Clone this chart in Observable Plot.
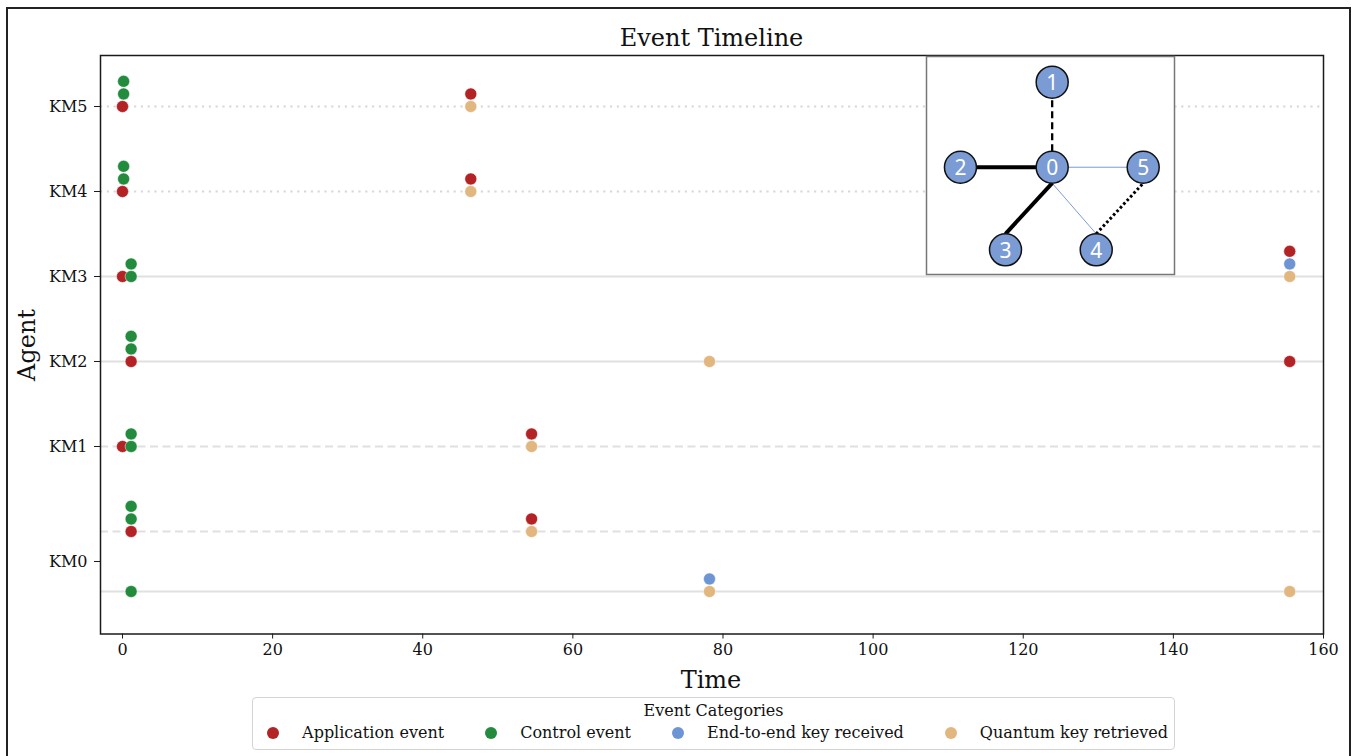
<!DOCTYPE html>
<html><head><meta charset="utf-8">
<script src="https://cdn.jsdelivr.net/npm/d3@7"></script>
<script src="https://cdn.jsdelivr.net/npm/@observablehq/plot@0.6"></script>
<style>
html,body{margin:0;padding:0;background:#fff;}
body{width:1360px;height:756px;position:relative;overflow:hidden;font-family:"DejaVu Serif",serif;color:#111;}
#frame{position:absolute;left:6px;top:7px;width:1345px;height:820px;border:2px solid #222;box-sizing:border-box;}
#chart{position:absolute;left:0;top:0;}
#inset{position:absolute;left:926px;top:56px;background:#fff;}
#title{position:absolute;left:100px;width:1223px;top:23px;text-align:center;font-size:24px;line-height:30px;white-space:nowrap;}
#ylabel{position:absolute;left:27px;top:345px;font-size:24px;line-height:30px;transform:translate(-50%,-50%) rotate(-90deg);white-space:nowrap;}
#xlabel{position:absolute;left:711px;top:680px;font-size:24px;line-height:30px;transform:translate(-50%,-50%);white-space:nowrap;}
#legend{position:absolute;left:252px;top:697px;width:923px;height:53px;box-sizing:border-box;border:1px solid #d4d4d4;border-radius:4px;background:#fff;}
#legend .lt{position:absolute;left:0;right:0;top:3px;text-align:center;font-size:16px;line-height:20px;white-space:nowrap;}
#legend .items{position:absolute;left:8px;right:0;top:25px;display:flex;justify-content:center;font-size:16px;line-height:20px;white-space:nowrap;}
#legend .item{display:flex;align-items:center;margin:0 20.5px;white-space:nowrap;flex:none;}
#legend .sw{width:12px;height:12px;border-radius:50%;margin-right:23px;flex:none;}
</style></head>
<body>
<div id="frame"></div>
<div id="chart"></div>
<div id="inset"></div>
<div id="title">Event Timeline</div>
<div id="ylabel">Agent</div>
<div id="xlabel">Time</div>
<div id="legend"><div class="lt">Event Categories</div><div class="items"></div></div>
<script>
// ---------- data ----------
const categories = ["Application event", "Control event", "End-to-end key received", "Quantum key retrieved"];
const categoryColors = ["#b32225", "#238b3e", "#6d95d3", "#e1b77f"];
const agentLabels = ["KM5", "KM4", "KM3", "KM2", "KM1", "KM0"];
const agentTickPos = [5, 4, 3, 2, 1, -0.353];
const laneY = [5, 4, 3, 2, 1, 0, -0.706];
const laneStyle = ["dotted", "dotted", "solid", "solid", "dashed", "dashed", "solid"];
const xTicks = [0, 20, 40, 60, 80, 100, 120, 140, 160];
const stackStep = 0.148;
// events: [time, laneIndex, categoryIndex, stackLevel]
const events = [
  [0, 0, 0, 0], [0.15, 0, 1, 1], [0.15, 0, 1, 2], [46.4, 0, 3, 0], [46.4, 0, 0, 1],
  [0, 1, 0, 0], [0.15, 1, 1, 1], [0.15, 1, 1, 2], [46.4, 1, 3, 0], [46.4, 1, 0, 1],
  [0, 2, 0, 0], [1.15, 2, 1, 0], [1.15, 2, 1, 1], [155.5, 2, 3, 0], [155.5, 2, 2, 1], [155.5, 2, 0, 2],
  [1.15, 3, 0, 0], [1.15, 3, 1, 1], [1.15, 3, 1, 2], [78.2, 3, 3, 0], [155.5, 3, 0, 0],
  [0, 4, 0, 0], [1.15, 4, 1, 0], [1.15, 4, 1, 1], [54.5, 4, 3, 0], [54.5, 4, 0, 1],
  [1.15, 5, 0, 0], [1.15, 5, 1, 1], [1.15, 5, 1, 2], [54.5, 5, 3, 0], [54.5, 5, 0, 1],
  [1.15, 6, 1, 0], [78.2, 6, 3, 0], [78.2, 6, 2, 1], [155.5, 6, 3, 0]
];
// inset network
const nodeNames = ["0", "1", "2", "3", "4", "5"];
const nodeX = [0, 0, -1.008, -0.513, 0.484, 1];
const nodeY = [0, 1.012, 0, -0.983, -0.983, 0];
// edges: [source, target, style, sourcePort, targetPort]
const edges = [
  ["0", "1", "dashed", "top", "bottom"],
  ["0", "2", "thick", "center", "center"],
  ["0", "3", "thick", "bottom", "top"],
  ["0", "5", "thin", "center", "center"],
  ["0", "4", "thin", "bottom", "top"],
  ["4", "5", "dotted", "top", "bottom"]
];

// ---------- main chart ----------
const font = "DejaVu Serif";
const eventRows = events.map(([t, lane, c, s]) => ({t, y: laneY[lane] + s * stackStep, cat: categories[c]}));
const lanes = laneY.map((y, i) => ({y, style: laneStyle[i]}));
const gridColor = "#e0e0e0";

const chart = Plot.plot({
  width: 1360, height: 756,
  marginLeft: 100, marginRight: 37, marginTop: 55, marginBottom: 122.5,
  style: {fontFamily: font, color: "#111", background: "transparent"},
  x: {domain: [-2.93, 160]},
  y: {domain: [-1.206, 5.6]},
  color: {domain: categories, range: categoryColors},
  marks: [
    Plot.ruleY(lanes.filter(d => d.style === "solid"), {y: "y", stroke: gridColor, strokeWidth: 2}),
    Plot.ruleY(lanes.filter(d => d.style === "dashed"), {y: "y", stroke: gridColor, strokeWidth: 2, strokeDasharray: "8,4.5"}),
    Plot.ruleY(lanes.filter(d => d.style === "dotted"), {y: "y", stroke: "#d8d8d8", strokeWidth: 2, strokeDasharray: "2.2,4.6"}),
    Plot.dot(eventRows, {x: "t", y: "y", fill: "cat", r: 6, stroke: "white", strokeWidth: 0.5}),
    Plot.frame({stroke: "#1a1a1a", strokeWidth: 1.5}),
    Plot.axisX({ticks: xTicks, tickSize: 5, tickPadding: 5, fontSize: 16, label: null, stroke: "#1a1a1a"}),
    Plot.axisY({ticks: agentTickPos, tickFormat: d => agentLabels[agentTickPos.indexOf(d)], tickSize: 6, tickPadding: 7, fontSize: 16, label: null, stroke: "#1a1a1a"})
  ]
});
document.getElementById("chart").appendChild(chart);

// ---------- inset ----------
const iw = 248, ih = 218;
const yDom = [-1.277, 1.318];
const nodeR = 16;
const unitY = ih / (yDom[1] - yDom[0]);
const portDy = {top: nodeR / unitY, bottom: -nodeR / unitY, center: 0};
const nodes = nodeNames.map((n, i) => ({n, x: nodeX[i], y: nodeY[i]}));
const nodeBy = new Map(nodes.map(d => [d.n, d]));
const edgeRows = edges.map(([s, t, style, sp, tp]) => ({
  style,
  x1: nodeBy.get(s).x, y1: nodeBy.get(s).y + portDy[sp],
  x2: nodeBy.get(t).x, y2: nodeBy.get(t).y + portDy[tp]
}));
const E = s => edgeRows.filter(d => d.style === s);
const inset = Plot.plot({
  width: iw, height: ih,
  marginLeft: 0, marginRight: 0, marginTop: 0, marginBottom: 0,
  style: {background: "#fff", overflow: "visible"},
  x: {domain: [-1.381, 1.344], axis: null},
  y: {domain: yDom, axis: null},
  marks: [
    Plot.link(E("thin"), {x1: "x1", y1: "y1", x2: "x2", y2: "y2", stroke: "#7b9bd4", strokeWidth: 1}),
    Plot.link(E("thick"), {x1: "x1", y1: "y1", x2: "x2", y2: "y2", stroke: "#000", strokeWidth: 4}),
    Plot.link(E("dashed"), {x1: "x1", y1: "y1", x2: "x2", y2: "y2", stroke: "#000", strokeWidth: 2.3, strokeDasharray: "7,4"}),
    Plot.link(E("dotted"), {x1: "x1", y1: "y1", x2: "x2", y2: "y2", stroke: "#000", strokeWidth: 3, strokeDasharray: "2.6,2.4"}),
    Plot.dot(nodes, {x: "x", y: "y", r: nodeR, fill: "#7b9bd4", stroke: "#111", strokeWidth: 1.5}),
    Plot.text(nodes, {x: "x", y: "y", text: "n", fill: "white", fontSize: 21, fontFamily: "Noto Sans", dy: 1}),
    Plot.frame({stroke: "#777", strokeWidth: 1.5})
  ]
});
document.getElementById("inset").appendChild(inset);

// ---------- legend ----------
const items = document.querySelector("#legend .items");
categories.forEach((c, i) => {
  const it = document.createElement("div");
  it.className = "item";
  const sw = document.createElement("span");
  sw.className = "sw";
  sw.style.background = categoryColors[i];
  const lb = document.createElement("span");
  lb.textContent = c;
  it.appendChild(sw); it.appendChild(lb);
  items.appendChild(it);
});
</script>
</body></html>
